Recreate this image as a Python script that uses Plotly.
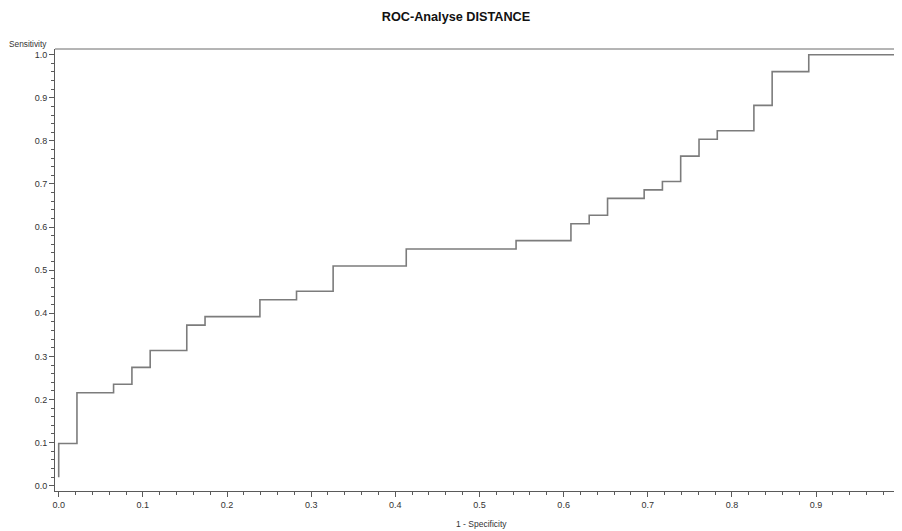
import plotly.graph_objects as go

# ROC step points (1 - Specificity, Sensitivity)
fpr = [0.0, 0.0, 0.0217, 0.0652, 0.0870, 0.1087, 0.1522, 0.1739, 0.2391, 0.2826,
       0.3261, 0.4130, 0.5435, 0.6087, 0.6304, 0.6522, 0.6957, 0.7174, 0.7391,
       0.7609, 0.7826, 0.8261, 0.8478, 0.8913, 1.0]
sens = [0.0196, 0.0980, 0.2157, 0.2353, 0.2745, 0.3137, 0.3725, 0.3922, 0.4314, 0.4510,
        0.5098, 0.5490, 0.5686, 0.6078, 0.6275, 0.6667, 0.6863, 0.7059, 0.7647,
        0.8039, 0.8235, 0.8824, 0.9608, 1.0, 1.0]

title_text = "ROC-Analyse DISTANCE"
x_title = "1 - Specificity"
y_title = "Sensitivity"

FONT = "Liberation Sans, Arial, sans-serif"

# page body has an 8px margin; figure is sized to fill the rest of the window
W, H = 894, 523

fig = go.Figure()
fig.add_trace(go.Scatter(
    x=fpr, y=sens, mode="lines", line=dict(shape="hv", color="#7c7c7c", width=1.6),
    showlegend=False, hoverinfo="x+y", cliponaxis=False,
))

axis_common = dict(
    showgrid=False, zeroline=False, showline=True, linecolor="#5a5a5a", linewidth=1,
    ticks="outside", ticklen=5, tickwidth=1, tickcolor="#5a5a5a",
    tickfont=dict(family=FONT, size=9, color="#333333"),
    dtick=0.1, tick0=0, tickformat=".1f", automargin=False, ticklabeloverflow="allow",
    minor=dict(dtick=0.02, tick0=0, ticks="outside", ticklen=3, tickwidth=1, tickcolor="#5a5a5a", showgrid=False),
)

fig.update_layout(
    width=W, height=H,
    margin=dict(l=47, r=0, t=41, b=40),
    paper_bgcolor="white", plot_bgcolor="white",
    template="none",
    title=dict(text="<b>" + title_text + "</b>", x=(456 - 8) / W, xref="container", xanchor="center",
               y=1 - (17 - 8) / H, yref="container", yanchor="middle",
               font=dict(family=FONT, size=12.7, color="#111111")),
    xaxis=dict(range=[-0.0044, 1.0021], **axis_common),
    yaxis=dict(range=[-0.0123, 1.0132], **axis_common),
    font=dict(family=FONT),
    annotations=[
        dict(text=y_title, xref="paper", yref="paper", x=-0.007, y=1.011, xanchor="right", yanchor="middle",
             showarrow=False, font=dict(family=FONT, size=8.3, color="#333333")),
        dict(text=x_title, xref="paper", yref="paper", x=0.504, y=-0.0747, xanchor="center", yanchor="middle",
             showarrow=False, font=dict(family=FONT, size=8.5, color="#333333")),
    ],
    shapes=[
        dict(type="line", xref="paper", yref="paper", x0=0, x1=1.01, y0=1, y1=1,
             line=dict(color="#6a6a6a", width=1)),
    ],
)

fig.write_html("out.html")
